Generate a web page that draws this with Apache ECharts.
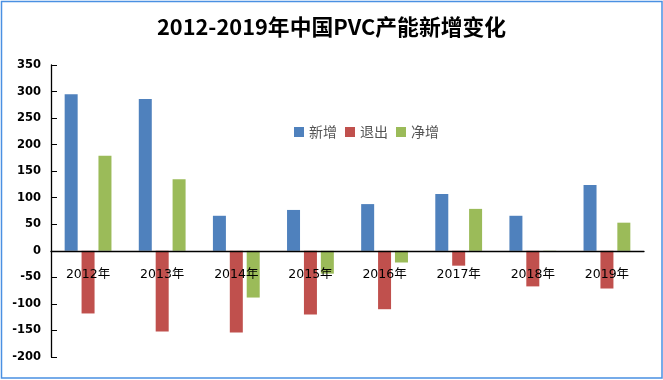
<!DOCTYPE html>
<html>
<head>
<meta charset="utf-8">
<script src="https://cdn.jsdelivr.net/npm/echarts@6/dist/echarts.min.js"></script>
<style>
html,body{margin:0;padding:0;background:#fff;}
#c{width:663px;height:380px;}
</style>
</head>
<body>
<div id="c"></div>
<script>
var categories = ['2012年','2013年','2014年','2015年','2016年','2017年','2018年','2019年'];
var seriesNames = ['新增','退出','净增'];
var added = [295, 286, 66, 77, 88, 107, 66, 124];
var retired = [-118, -152, -154, -120, -110, -28, -67, -71];
var net = [179, 135, -88, -43, -22, 79, -1, 53];
var yTicks = [-200, 350, 50];

var chart = echarts.init(document.getElementById('c'));
var barBase = {type:'bar', barWidth:13, barGap:'30%'};
chart.setOption({
  animation:false,
  backgroundColor:'#fff',
  title:{
    text:'2012-2019年中国PVC产能新增变化',
    left:'center', top:11,
    textStyle:{fontFamily:'"Noto Sans CJK SC", sans-serif', fontWeight:'bold', fontSize:21.8, color:'#000'}
  },
  legend:{
    data:seriesNames,
    left:289, top:120,
    itemWidth:10, itemHeight:10, itemGap:8,
    icon:'rect',
    textStyle:{fontFamily:'"Noto Sans CJK SC", sans-serif', fontSize:14, color:'#555'}
  },
  grid:{left:51, right:19, top:65, bottom:23},
  xAxis:{
    type:'category',
    data:categories,
    z:10,
    boundaryGap:true,
    axisLine:{onZero:true, lineStyle:{color:'#000', width:1.3}},
    axisTick:{inside:true, length:6, lineStyle:{color:'#000'}},
    axisLabel:{margin:-89, color:'#000', fontSize:12.5, fontFamily:'"DejaVu Sans","Noto Sans CJK SC", sans-serif'},
    splitLine:{show:false}
  },
  yAxis:{
    type:'value',
    min:yTicks[0], max:yTicks[1], interval:yTicks[2],
    axisLine:{show:true, lineStyle:{color:'#000', width:1.3}},
    axisTick:{show:true, inside:true, length:6, lineStyle:{color:'#000'}},
    axisLabel:{margin:10, color:'#000', fontWeight:'bold', fontSize:11.5, fontFamily:'"DejaVu Sans", sans-serif'},
    splitLine:{show:false}
  },
  series:[
    Object.assign({name:seriesNames[0], data:added, itemStyle:{color:'#4f81bd'}}, barBase),
    Object.assign({name:seriesNames[1], data:retired, itemStyle:{color:'#c0504d'}}, barBase),
    Object.assign({name:seriesNames[2], data:net, itemStyle:{color:'#9bbb59'}}, barBase)
  ],
  graphic:[{
    type:'rect', silent:true, z:100,
    shape:{x:1.5, y:1.5, width:660.5, height:376.5},
    style:{fill:'none', stroke:'#4a90e2', lineWidth:1.5}
  }]
});
</script>
</body>
</html>
